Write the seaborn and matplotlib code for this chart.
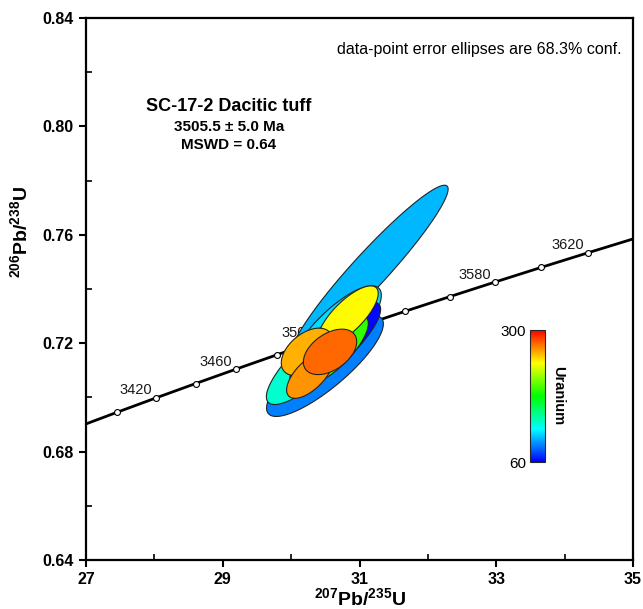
import numpy as np
import pandas as pd
import seaborn as sns
import matplotlib.pyplot as plt
from matplotlib.colors import LinearSegmentedColormap, Normalize
from matplotlib.cm import ScalarMappable
from matplotlib.ticker import FixedLocator, MultipleLocator, FormatStrFormatter

#=====================================================================
# Data
#=====================================================================

#Spot analyses: 207Pb/235U, err, 206Pb/238U, err, error correlation, U (ppm)
#(listed in drawing order, back to front)
ratio_75 = [31.154, 30.495, 30.642, 30.393, 30.642, 30.642, 30.832, 30.232, 30.276, 30.569]
err_75   = [1.142, 0.854, 0.677, 0.755, 0.667, 0.487, 0.442, 0.376, 0.342, 0.390]
ratio_68 = [0.7470, 0.7116, 0.7241, 0.7153, 0.7193, 0.7175, 0.7300, 0.7168, 0.7083, 0.7168]
err_68   = [0.0313, 0.01863, 0.01708, 0.01793, 0.01587, 0.01262, 0.01114, 0.00875, 0.00864, 0.00838]
rho      = [0.954, 0.834, 0.794, 0.840, 0.833, 0.776, 0.753, 0.466, 0.642, 0.447]
uranium  = [104, 90, 112, 132, 62, 192, 240, 258, 265, 275]

#Concordia tick ages (Ma) and which of them carry a label
conc_ages  = [3380, 3400, 3420, 3440, 3460, 3480, 3500, 3520, 3540, 3560, 3580, 3600, 3620, 3640]
label_ages = [3420, 3460, 3500, 3580, 3620]

#Decay constants (1/yr)
lam235 = 9.8485e-10
lam238 = 1.55125e-10

#Axis ticks
x_major = [27, 29, 31, 33, 35]
x_minor = [28, 30, 32, 34]

#=====================================================================
# Plot
#=====================================================================

sns.set_theme(style='white')
plt.rcParams['font.family'] = ['Liberation Sans', 'DejaVu Sans']
plt.rcParams['mathtext.fontset'] = 'custom'
plt.rcParams['mathtext.rm'] = 'Liberation Sans'
plt.rcParams['mathtext.bf'] = 'Liberation Sans:bold'
plt.rcParams['text.color'] = 'black'
plt.rcParams['axes.labelcolor'] = 'black'
plt.rcParams['xtick.color'] = 'black'
plt.rcParams['ytick.color'] = 'black'

fig = plt.figure(figsize=(6.43, 6.09), dpi=100)
ax = fig.add_axes([86/643, 49/609, 547/643, 542/609])

#Concordia curve
conc = pd.DataFrame({'age': conc_ages})
conc['x'] = np.exp(lam235*conc['age']*1e6) - 1
conc['y'] = np.exp(lam238*conc['age']*1e6) - 1
sns.lineplot(data=conc, x='x', y='y', sort=False, color='black', lw=2.0, ax=ax, zorder=2)
sns.scatterplot(data=conc, x='x', y='y', marker='o', s=18, color='white',
                edgecolor='black', linewidth=0.8, ax=ax, zorder=3)
for _, row in conc[conc['age'].isin(label_ages)].iterrows():
    ax.annotate(str(int(row['age'])), (row['x'], row['y']), xytext=(-3, 2.5),
                textcoords='offset points', ha='right', va='baseline',
                fontsize=10.5, color='#1a1a1a', zorder=2.5)

#Error ellipses coloured by U
cmap = LinearSegmentedColormap.from_list('uranium', ['#0000FF', '#00FFFF', '#00FF00', '#FFFF00', '#FF0000'])
norm = Normalize(vmin=60, vmax=300)
t = np.linspace(0, 2*np.pi, 200)
for i in range(len(ratio_75)):
    ex = ratio_75[i] + err_75[i]*np.cos(t)
    ey = ratio_68[i] + err_68[i]*(rho[i]*np.cos(t) + np.sqrt(1 - rho[i]**2)*np.sin(t))
    ax.fill(ex, ey, facecolor=cmap(norm(uranium[i])), edgecolor='#222222', lw=0.8, zorder=4 + i)

#Axes formatting
ax.set_xlim(27, 35)
ax.set_ylim(0.64, 0.84)
ax.xaxis.set_major_locator(FixedLocator(x_major))
ax.xaxis.set_minor_locator(FixedLocator(x_minor))
ax.yaxis.set_major_locator(MultipleLocator(0.04))
ax.yaxis.set_minor_locator(MultipleLocator(0.02))
ax.xaxis.set_major_formatter(FormatStrFormatter('%d'))
ax.yaxis.set_major_formatter(FormatStrFormatter('%.2f'))
ax.tick_params(which='major', direction='out', length=5, width=1.5, labelsize=11.5,
               color='black', labelcolor='black', left=True, bottom=True, pad=4)
ax.tick_params(which='minor', direction='in', length=4, width=1.2, color='black', left=True, bottom=True)
for lab in ax.get_xticklabels() + ax.get_yticklabels():
    lab.set_fontweight('bold')
for s in ax.spines.values():
    s.set_color('black')
    s.set_linewidth(1.6)
ax.set_xlabel('')
ax.set_ylabel('')

#Axis labels
fig.text(360/643, 1 - 598/609, r'$\mathbf{^{207}}$Pb/$\mathbf{^{235}}$U', ha='center', va='center',
         fontsize=14, fontweight='bold', color='black')
fig.text(20/643, 1 - 232/609, r'$\mathbf{^{206}}$Pb/$\mathbf{^{238}}$U', ha='center', va='center',
         fontsize=14, fontweight='bold', rotation=90, color='black')

#Annotations
ax.text(0.980, 0.941, 'data-point error ellipses are 68.3% conf.', transform=ax.transAxes,
        ha='right', va='center', fontsize=11.5, color='black')
ax.text(0.261, 0.836, 'SC-17-2 Dacitic tuff', transform=ax.transAxes, ha='center', va='center',
        fontsize=13, fontweight='bold', color='black')
ax.text(0.261, 0.799, '3505.5 ± 5.0 Ma', transform=ax.transAxes, ha='center', va='center',
        fontsize=11, fontweight='bold', color='black')
ax.text(0.261, 0.766, 'MSWD = 0.64', transform=ax.transAxes, ha='center', va='center',
        fontsize=11, fontweight='bold', color='black')

#Colour bar
cax = fig.add_axes([530/643, (609-462)/609, 15/643, 132/609])
cb = fig.colorbar(ScalarMappable(norm=norm, cmap=cmap), cax=cax)
cb.set_ticks([60, 300])
cb.outline.set_linewidth(0.8)
cax.yaxis.set_ticks_position('left')
cax.tick_params(length=0, labelsize=11, pad=3, labelcolor='black')
cax.text(1.9, 0.5, 'Uranium', transform=cax.transAxes, rotation=270, ha='center', va='center',
         fontsize=10.5, fontweight='bold', color='black')

plt.savefig('out.png', dpi=100)
plt.close()
